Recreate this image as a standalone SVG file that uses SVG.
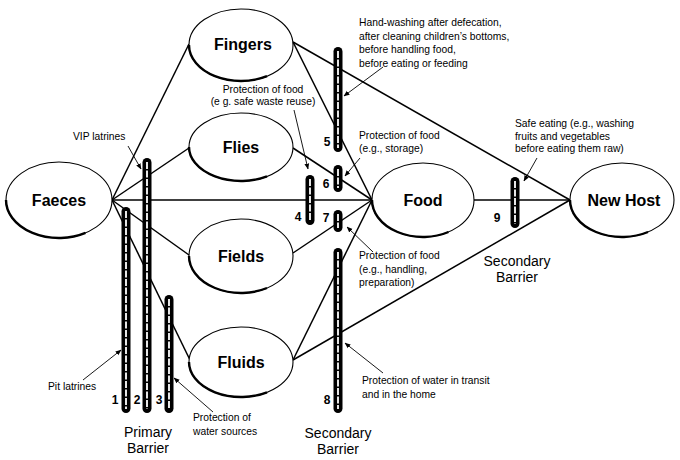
<svg xmlns="http://www.w3.org/2000/svg" width="680" height="460" viewBox="0 0 680 460">
<defs>
<marker id="ah" viewBox="0 0 10 10" refX="9" refY="5" markerWidth="6" markerHeight="6" markerUnits="userSpaceOnUse" orient="auto">
<path d="M0,1 L10,5 L0,9 Z" fill="#000"/>
</marker>
</defs>
<style>
.node ellipse{fill:#fff;stroke:#000;stroke-width:1.1}
.node path{fill:none;stroke:#000;stroke-width:2.4}
.lbl{font-family:"Liberation Sans",Arial,sans-serif;font-weight:bold;font-size:16px;text-anchor:middle;fill:#000}
.conn line{stroke:#000;stroke-width:1.5}
.ann line{stroke:#000;stroke-width:0.9;marker-end:url(#ah)}
.note{font-family:"Liberation Sans",Arial,sans-serif;font-size:10.3px;fill:#000}
.num{font-family:"Liberation Sans",Arial,sans-serif;font-weight:bold;font-size:12px;text-anchor:middle;fill:#000}
.bar{font-family:"Liberation Sans",Arial,sans-serif;font-size:14px;text-anchor:middle;fill:#000}
.pill rect{fill:#000}
.pill line{stroke:#fff;stroke-width:1.8;stroke-dasharray:7 1.5}
</style>
<rect width="680" height="460" fill="#fff"/>

<g id="connectors" class="conn">
<line x1="112" y1="200" x2="189" y2="44"/>
<line x1="112" y1="200" x2="189" y2="148"/>
<line x1="112" y1="200" x2="372" y2="200"/>
<line x1="112" y1="200" x2="189" y2="255"/>
<line x1="112" y1="200" x2="190" y2="360"/>
<line x1="293" y1="42" x2="372" y2="200"/>
<line x1="293" y1="42" x2="570" y2="200"/>
<line x1="293" y1="148" x2="372" y2="200"/>
<line x1="293" y1="253" x2="372" y2="200"/>
<line x1="293" y1="360" x2="372" y2="200"/>
<line x1="293" y1="360" x2="570" y2="200"/>
<line x1="474" y1="200" x2="570" y2="200"/>
</g>

<g id="node-faeces" class="node"><ellipse cx="59" cy="200" rx="53" ry="38"/><path d="M6,200 A53,38 0 0 0 85.5,232.9"/><text class="lbl" x="59" y="206">Faeces</text></g>
<g id="node-fingers" class="node"><ellipse cx="241" cy="45" rx="52" ry="36"/><path d="M189,45 A52,36 0 0 0 267,76.2"/><text class="lbl" x="243" y="50">Fingers</text></g>
<g id="node-flies" class="node"><ellipse cx="241" cy="147" rx="52" ry="34"/><path d="M189,147 A52,34 0 0 0 267,176.4"/><text class="lbl" x="241" y="153">Flies</text></g>
<g id="node-fields" class="node"><ellipse cx="241" cy="256" rx="52" ry="37"/><path d="M189,256 A52,37 0 0 0 267,288"/><text class="lbl" x="241" y="262">Fields</text></g>
<g id="node-fluids" class="node"><ellipse cx="241" cy="362" rx="52" ry="35"/><path d="M189,362 A52,35 0 0 0 267,392.3"/><text class="lbl" x="241" y="368">Fluids</text></g>
<g id="node-food" class="node"><ellipse cx="423" cy="200" rx="51" ry="37"/><path d="M372,200 A51,37 0 0 0 448.5,232"/><text class="lbl" x="423" y="206">Food</text></g>
<g id="node-newhost" class="node"><ellipse cx="622" cy="200" rx="52" ry="37"/><path d="M570,200 A52,37 0 0 0 648,232"/><text class="lbl" x="624" y="206">New Host</text></g>

<g id="barriers" class="pill">
<g id="barrier-1"><rect x="121.5" y="207" width="9" height="206" rx="4.5"/><line x1="126" y1="211" x2="126" y2="409"/></g>
<g id="barrier-2"><rect x="142.5" y="158" width="9" height="255" rx="4.5"/><line x1="147" y1="162" x2="147" y2="409"/></g>
<g id="barrier-3"><rect x="164.5" y="295" width="9" height="118" rx="4.5"/><line x1="169" y1="299" x2="169" y2="409"/></g>
<g id="barrier-4"><rect x="305.5" y="175" width="9" height="50" rx="4.5"/><line x1="310" y1="179" x2="310" y2="221"/></g>
<g id="barrier-5"><rect x="333.5" y="47" width="9" height="105" rx="4.5"/><line x1="338" y1="51" x2="338" y2="148"/></g>
<g id="barrier-6"><rect x="333.5" y="165" width="9" height="27" rx="4.5"/><line x1="338" y1="169" x2="338" y2="188"/></g>
<g id="barrier-7"><rect x="333.5" y="210" width="9" height="22" rx="4.5"/><line x1="338" y1="214" x2="338" y2="228"/></g>
<g id="barrier-8"><rect x="333.5" y="248" width="9" height="165" rx="4.5"/><line x1="338" y1="252" x2="338" y2="409"/></g>
<g id="barrier-9"><rect x="510.5" y="177" width="9" height="51" rx="4.5"/><line x1="515" y1="181" x2="515" y2="224"/></g>
</g>

<g id="numbers">
<text class="num" x="115" y="404">1</text>
<text class="num" x="137" y="404">2</text>
<text class="num" x="159" y="404">3</text>
<text class="num" x="298" y="221">4</text>
<text class="num" x="327" y="146">5</text>
<text class="num" x="326" y="188">6</text>
<text class="num" x="326" y="222">7</text>
<text class="num" x="327" y="404">8</text>
<text class="num" x="497" y="222">9</text>
</g>

<g id="annotations" class="ann">
<line x1="128" y1="146" x2="141" y2="169"/>
<line x1="294" y1="110" x2="308" y2="169"/>
<line x1="383" y1="67" x2="344" y2="96"/>
<line x1="360" y1="158" x2="345" y2="176"/>
<line x1="373" y1="252" x2="347" y2="227"/>
<line x1="537" y1="158" x2="524" y2="181"/>
<line x1="383" y1="373" x2="345" y2="343"/>
<line x1="83" y1="380" x2="121" y2="350"/>
<line x1="213" y1="412" x2="174" y2="378"/>
</g>

<g id="notes">
<text class="note" x="73" y="140">VIP latrines</text>
<text class="note" x="263" y="93" text-anchor="middle">Protection of food</text>
<text class="note" x="263" y="105" text-anchor="middle">(e g. safe waste reuse)</text>
<text class="note" x="359" y="26">Hand-washing after defecation,</text>
<text class="note" x="359" y="40">after cleaning children’s bottoms,</text>
<text class="note" x="359" y="53">before handling food,</text>
<text class="note" x="359" y="67">before eating or feeding</text>
<text class="note" x="359" y="139">Protection of food</text>
<text class="note" x="359" y="152">(e.g., storage)</text>
<text class="note" x="515" y="127">Safe eating (e.g., washing</text>
<text class="note" x="515" y="139.5">fruits and vegetables</text>
<text class="note" x="515" y="152">before eating them raw)</text>
<text class="note" x="359" y="259">Protection of food</text>
<text class="note" x="359" y="272.5">(e.g., handling,</text>
<text class="note" x="359" y="286">preparation)</text>
<text class="note" x="362" y="384">Protection of water in transit</text>
<text class="note" x="362" y="397.5">and in the home</text>
<text class="note" x="48" y="390">Pit latrines</text>
<text class="note" x="193" y="421">Protection of</text>
<text class="note" x="193" y="435">water sources</text>
</g>

<g id="barrier-labels">
<text class="bar" x="148" y="437">Primary</text>
<text class="bar" x="148" y="453">Barrier</text>
<text class="bar" x="338" y="438">Secondary</text>
<text class="bar" x="338" y="454">Barrier</text>
<text class="bar" x="517" y="266">Secondary</text>
<text class="bar" x="517" y="282">Barrier</text>
</g>
</svg>
